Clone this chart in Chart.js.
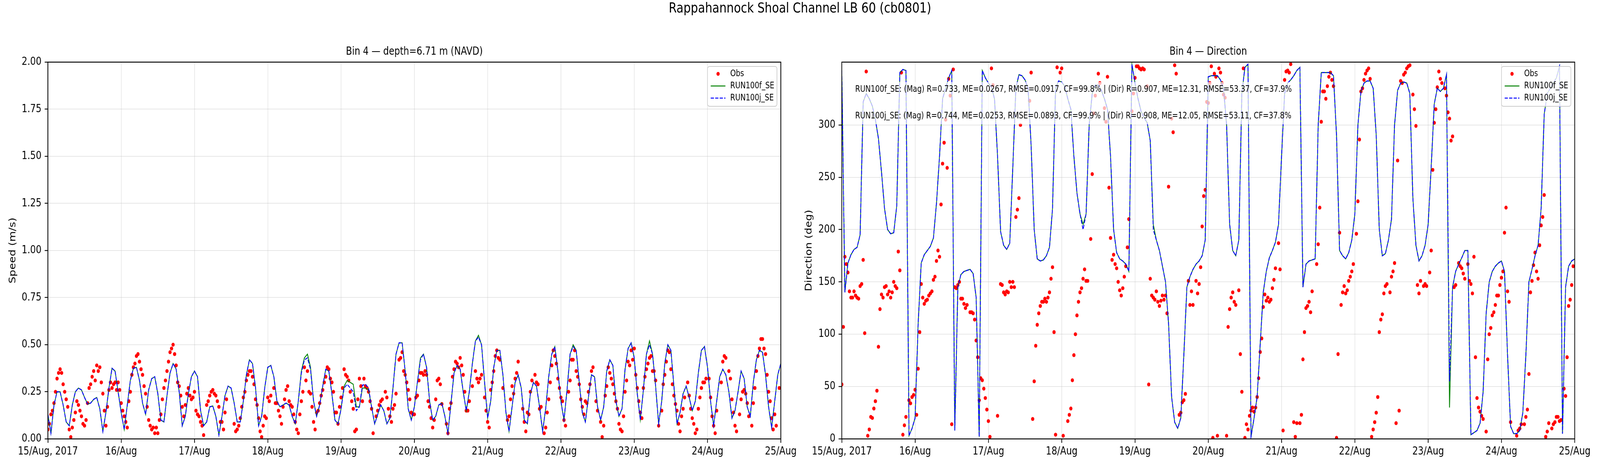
<!DOCTYPE html>
<html>
<head>
<meta charset="utf-8">
<script src="https://cdn.jsdelivr.net/npm/chart.js@4.4.1/dist/chart.umd.min.js"></script>
<style>
  html, body { margin: 0; padding: 0; background: #fff; overflow: hidden; }
  #page { position: absolute; left: 0; top: 0; width: 5000px; height: 1200px; transform-origin: 0 0; font-family: 'DejaVu Sans', sans-serif; }
  #suptitle { position: absolute; left: 0; top: 0; width: 5000px; text-align: center; font-size: 35.8px; line-height: 40px; color: #000; }
  .panel { position: absolute; top: 0; height: 1200px; }
</style>
</head>
<body>
<div id="page">
  <div id="suptitle">Rappahannock Shoal Channel LB 60 (cb0801)</div>
  <div class="panel" style="left:0;width:2540px"><canvas id="speed" width="2540" height="1200"></canvas></div>
  <div class="panel" style="left:2500px;width:2500px"><canvas id="direction" width="2500" height="1200"></canvas></div>
</div>
<script>
// the layout is drawn for 5000x1200 and fitted to whatever window we get
const page = document.getElementById('page');
page.style.transform = 'scale(' + (window.innerWidth / 5000) + ',' + (window.innerHeight / 1200) + ')';

// x values are hours since 15/Aug/2017 00:00, model output hourly, obs every 30 min
const xTickLabels = ['15/Aug, 2017', '16/Aug', '17/Aug', '18/Aug', '19/Aug', '20/Aug',
                     '21/Aug', '22/Aug', '23/Aug', '24/Aug', '25/Aug'];

const seriesNames = ['Obs', 'RUN100f_SE', 'RUN100j_SE'];

// speed (m/s), hourly
const speedF = [
  0.13,0.03,0.18,0.25,0.25,0.18,0.09,0.07,0.18,0.25,0.27,0.26,0.22,0.185,0.19,0.21,0.22,0.16,0.04,0.14,0.27,0.375,0.36,0.25,
  0.14,0.05,0.18,0.31,0.375,0.38,0.31,0.19,0.13,0.26,0.32,0.33,0.24,0.10,0.09,0.23,0.35,0.40,0.37,0.25,0.07,0.12,0.24,0.33,
  0.36,0.33,0.15,0.07,0.09,0.17,0.175,0.12,0.02,0.12,0.23,0.28,0.27,0.19,0.09,0.09,0.20,0.34,0.42,0.40,0.27,0.07,0.12,0.27,
  0.38,0.39,0.33,0.20,0.17,0.18,0.19,0.18,0.12,0.08,0.20,0.36,0.43,0.45,0.38,0.20,0.12,0.18,0.28,0.37,0.36,0.24,0.10,0.08,
  0.16,0.28,0.31,0.30,0.29,0.17,0.17,0.27,0.27,0.26,0.17,0.08,0.13,0.18,0.15,0.08,0.11,0.27,0.45,0.51,0.51,0.36,0.16,0.10,
  0.17,0.30,0.43,0.45,0.38,0.20,0.10,0.12,0.18,0.19,0.12,0.03,0.19,0.35,0.39,0.37,0.25,0.15,0.25,0.40,0.52,0.55,0.50,0.30,
  0.11,0.20,0.38,0.47,0.47,0.34,0.14,0.04,0.17,0.30,0.34,0.27,0.10,0.08,0.24,0.30,0.28,0.17,0.04,0.16,0.33,0.45,0.49,0.36,
  0.20,0.10,0.26,0.45,0.50,0.47,0.30,0.14,0.09,0.22,0.34,0.33,0.17,0.10,0.17,0.36,0.42,0.39,0.20,0.12,0.16,0.37,0.48,0.51,
  0.43,0.24,0.10,0.26,0.45,0.52,0.45,0.28,0.08,0.20,0.40,0.50,0.47,0.28,0.08,0.14,0.24,0.28,0.22,0.15,0.20,0.35,0.47,0.49,
  0.38,0.20,0.07,0.20,0.33,0.37,0.34,0.25,0.11,0.15,0.25,0.36,0.32,0.17,0.12,0.30,0.42,0.47,0.46,0.34,0.17,0.06,0.20,0.34,
  0.40
];
const speedJ = [
  0.13,0.03,0.18,0.25,0.25,0.18,0.09,0.07,0.18,0.25,0.27,0.26,0.22,0.185,0.19,0.21,0.22,0.16,0.04,0.14,0.27,0.375,0.36,0.25,
  0.14,0.05,0.18,0.31,0.375,0.38,0.31,0.19,0.13,0.26,0.32,0.33,0.24,0.10,0.09,0.23,0.35,0.40,0.37,0.25,0.07,0.12,0.24,0.33,
  0.36,0.33,0.15,0.07,0.09,0.17,0.175,0.12,0.02,0.12,0.23,0.28,0.27,0.19,0.09,0.09,0.20,0.34,0.42,0.40,0.27,0.07,0.12,0.27,
  0.38,0.39,0.33,0.20,0.17,0.18,0.19,0.18,0.12,0.08,0.20,0.35,0.42,0.43,0.37,0.20,0.12,0.18,0.28,0.37,0.36,0.24,0.10,0.08,
  0.16,0.27,0.29,0.27,0.25,0.15,0.17,0.285,0.29,0.27,0.17,0.08,0.13,0.18,0.15,0.08,0.11,0.27,0.45,0.51,0.51,0.36,0.16,0.10,
  0.17,0.30,0.42,0.45,0.38,0.20,0.10,0.12,0.18,0.19,0.12,0.03,0.19,0.35,0.39,0.37,0.25,0.15,0.25,0.40,0.52,0.54,0.50,0.30,
  0.11,0.20,0.38,0.47,0.47,0.34,0.14,0.04,0.17,0.30,0.34,0.27,0.10,0.08,0.24,0.30,0.28,0.17,0.04,0.16,0.33,0.45,0.49,0.36,
  0.20,0.10,0.26,0.45,0.49,0.47,0.30,0.14,0.09,0.22,0.34,0.33,0.17,0.10,0.17,0.36,0.42,0.39,0.20,0.12,0.16,0.37,0.48,0.51,
  0.43,0.24,0.10,0.26,0.45,0.50,0.45,0.28,0.08,0.20,0.40,0.50,0.47,0.28,0.08,0.14,0.24,0.28,0.22,0.15,0.20,0.35,0.47,0.49,
  0.38,0.20,0.07,0.20,0.33,0.37,0.34,0.25,0.11,0.15,0.25,0.36,0.32,0.17,0.12,0.30,0.42,0.47,0.46,0.34,0.17,0.06,0.20,0.34,
  0.40
];
// observed speed, every 30 min (null = no data)
const speedObs = [
  0.05,0.08,0.13,0.15,0.19,0.25,0.32,0.35,0.37,0.35,0.29,0.25,0.21,0.17,0.05,0.01,0.06,0.10,0.14,0.20,0.18,0.15,0.12,0.08,
  0.07,0.10,0.19,0.27,0.29,0.33,0.36,0.31,0.39,0.36,0.38,0.30,0.24,0.15,0.07,0.17,0.26,0.30,0.27,0.29,0.30,0.26,0.30,0.26,
  0.19,0.15,0.12,0.09,0.06,0.20,0.25,0.34,0.38,0.40,0.44,0.45,0.41,0.37,0.34,0.28,0.24,0.17,0.10,0.07,0.05,0.06,0.03,0.06,
  0.03,0.10,0.13,0.21,0.27,0.31,0.36,0.41,0.46,0.48,0.50,0.45,0.39,0.30,0.28,0.23,0.17,0.12,0.18,0.24,0.27,0.23,0.21,0.22,
  0.25,0.15,0.13,0.12,0.09,0.07,0.02,null,0.18,0.20,0.23,0.25,0.26,0.24,0.23,0.20,0.17,0.09,0.09,0.05,0.14,0.21,null,null,
  null,null,0.08,0.04,0.05,0.07,0.11,0.17,0.22,0.25,0.31,0.34,0.36,0.36,0.33,0.29,0.21,0.18,0.11,0.04,0.01,0.07,0.12,0.11,
  0.22,0.20,0.23,null,0.27,0.19,0.19,0.15,0.12,0.08,0.17,0.21,0.26,0.28,0.20,0.18,0.17,0.13,0.09,0.05,0.03,0.13,0.20,0.25,
  0.38,0.31,0.36,0.25,0.24,0.17,0.09,0.05,0.14,0.15,0.19,0.23,0.26,0.30,0.33,0.38,0.37,0.32,0.30,0.25,0.14,0.14,0.08,0.17,
  0.22,0.27,0.37,0.34,0.33,0.31,0.25,0.20,0.16,0.04,0.05,0.21,0.32,0.28,0.20,0.32,0.28,0.27,0.25,0.20,0.16,0.03,null,0.12,
  0.15,0.18,0.20,0.21,null,0.25,0.22,0.16,0.12,0.09,0.16,0.18,0.24,null,0.42,0.43,0.46,0.36,0.34,0.30,0.26,0.21,0.14,0.13,
  0.13,0.22,0.23,0.31,0.35,0.35,0.34,0.36,0.34,0.20,0.17,0.11,0.06,0.10,0.21,0.31,0.32,0.29,0.185,null,null,0.08,0.03,0.16,
  0.19,0.33,0.37,0.41,0.40,0.38,0.43,0.39,0.34,0.25,0.15,0.15,0.20,null,0.28,null,0.36,0.32,0.30,0.32,0.34,null,0.22,0.15,
  0.09,0.06,0.26,0.30,0.36,0.44,0.47,0.43,0.42,null,0.27,null,null,0.10,0.12,0.21,0.28,0.24,0.32,0.35,0.41,null,null,0.16,
  0.09,0.04,0.14,0.13,0.25,0.31,null,0.34,0.30,0.29,0.16,0.17,null,0.03,0.06,0.14,0.21,0.30,0.39,0.47,0.44,0.40,0.32,0.27,
  0.22,0.20,0.10,0.07,null,0.25,0.31,0.42,0.42,0.47,0.36,0.33,0.29,0.21,0.17,0.13,0.20,0.19,0.25,0.29,0.36,0.38,null,0.20,
  0.15,null,0.09,0.01,0.07,0.23,0.28,0.38,0.35,0.32,0.29,0.24,0.20,0.16,0.08,0.05,0.04,0.12,0.25,0.31,0.41,0.39,0.47,0.42,
  0.48,0.34,0.27,0.20,0.14,0.11,0.27,0.33,0.37,0.40,0.43,0.44,0.36,0.36,0.31,null,0.07,null,0.15,0.29,0.34,0.41,0.47,0.46,
  0.37,0.29,0.23,0.185,0.15,0.08,0.04,0.12,0.16,0.22,null,0.30,0.23,0.16,0.11,0.08,0.03,0.05,0.16,0.22,0.27,0.30,0.30,0.32,
  null,0.32,0.22,0.12,0.07,0.03,0.15,null,null,0.30,0.41,0.44,0.43,null,0.36,0.32,0.21,0.14,0.07,0.04,null,0.13,0.21,0.25,
  0.26,0.24,0.19,0.12,null,0.07,0.19,0.27,0.36,0.44,0.48,0.53,0.53,0.48,0.45,0.34,0.25,0.20,0.11,0.05,0.13,0.07,null,0.27
];

// direction (deg), hourly
const dirF = [
  352,140,168,176,181,183,195,322,330,325,318,305,287,255,220,200,196,197,223,350,353,352,3,10,
  20,110,168,176,180,184,192,225,270,325,335,345,352,8,145,157,160,161,162,158,135,2,352,345,
  340,336,325,270,198,185,181,187,260,335,348,347,343,335,280,200,172,170,171,175,183,220,335,342,
  341,337,325,315,270,235,215,205,215,300,330,338,338,333,325,315,270,200,178,172,170,167,160,358,
  340,325,313,307,302,285,205,190,180,165,150,110,40,16,10,20,80,145,155,162,167,170,175,190,
  346,347,347,347,343,335,300,205,180,175,190,330,355,358,2,20,40,90,140,160,173,180,188,205,
  270,330,340,343,347,352,355,145,167,170,171,172,300,350,350,350,350,347,290,180,175,172,178,190,
  215,300,332,340,342,342,335,290,200,175,177,190,210,300,333,340,341,340,330,230,185,170,175,185,
  205,260,320,335,332,335,348,30,145,160,167,173,180,180,4,6,8,15,45,120,150,160,165,168,
  170,160,80,12,5,5,8,25,80,150,162,175,185,220,310,330,335,340,345,356,5,145,165,170,
  172
];
const dirJ = [
  352,140,168,176,181,183,195,322,330,325,318,305,287,255,220,200,196,197,223,350,353,352,3,10,
  20,110,168,176,180,184,192,225,270,325,335,345,352,8,145,157,160,161,162,158,135,2,352,345,
  340,336,325,270,198,185,181,187,260,335,348,347,343,335,280,200,172,170,171,175,183,220,335,342,
  341,337,325,315,270,235,215,200,215,300,330,338,338,333,325,315,270,200,178,172,170,167,160,358,
  340,325,313,307,302,285,200,190,180,165,150,110,40,16,10,20,80,145,155,162,167,170,175,190,
  346,347,347,347,343,335,300,205,180,175,190,330,355,358,2,20,40,90,140,160,173,180,188,205,
  270,330,340,343,347,352,355,145,167,170,171,172,300,350,350,350,350,347,290,180,175,172,178,190,
  215,300,332,340,342,342,335,290,200,175,177,190,210,300,333,340,341,340,330,230,185,170,175,185,
  205,260,320,335,332,335,348,55,145,160,167,173,180,180,4,6,8,15,45,120,150,160,165,168,
  170,160,80,12,5,5,8,25,80,150,162,175,185,220,310,330,335,340,345,356,5,145,165,170,
  172
];
// observed direction, every 30 min (null = no data)
const dirObs = [
  52,107,174,167,159,141,135,135,141,137,135,134,146,148,171,101,351,3,9,21,20,29,36,46,
  88,124,138,135,145,146,138,141,135,140,150,146,144,179,161,350,4,13,21,null,37,34,40,42,
  47,23,67,102,148,135,129,132,133,137,139,141,152,155,170,180,174,224,263,283,305,259,344,328,
  14,353,145,144,147,150,134,134,129,125,128,null,121,121,120,114,94,78,37,58,56,48,39,28,
  17,2,354,338,null,null,22,null,148,147,140,138,141,140,150,145,150,145,212,219,230,300,null,null,
  null,null,null,323,350,19,55,89,109,120,127,131,131,134,131,135,140,153,164,102,4,355,null,350,
  354,3,null,null,17,23,29,56,80,100,118,131,140,144,153,162,151,151,null,191,253,311,328,null,
  349,340,null,null,316,303,346,240,192,171,176,167,163,150,142,137,144,155,165,183,210,null,313,330,
  345,356,356,354,353,354,353,null,337,52,153,137,135,133,141,131,127,132,137,133,137,120,241,null,
  306,293,357,349,null,23,25,35,37,43,null,151,128,141,128,null,151,139,148,164,203,232,238,322,
  321,340,356,1,349,346,3,354,350,340,329,326,3,107,124,135,140,131,128,null,142,81,45,354,
  1,14,9,22,27,30,26,30,40,58,83,96,126,138,132,135,131,133,144,152,163,null,187,162,
  null,8,343,351,352,350,358,null,16,2,15,null,15,23,76,102,125,127,131,121,141,null,null,167,
  186,221,303,332,332,325,337,346,350,343,337,null,1,81,197,128,140,146,139,142,151,155,160,167,
  null,196,227,286,332,335,343,349,352,354,344,2,9,16,25,40,102,114,119,139,146,148,null,140,
  155,160,168,15,266,27,342,340,348,350,354,356,357,null,329,315,299,147,139,151,null,146,148,146,
  null,159,180,257,302,315,336,351,344,340,null,335,328,312,306,285,289,145,147,null,168,165,163,158,
  153,null,167,151,148,139,174,78,39,30,26,22,19,null,7,76,100,106,118,121,128,137,137,147,
  154,160,197,221,141,131,16,null,null,null,3,8,10,14,null,14,21,28,62,140,151,166,178,160,
  153,185,204,212,233,2,7,15,null,10,14,16,21,21,17,18,null,48,41,78,127,133,147,165
];

const statsLines = [
  'RUN100f_SE: (Mag) R=0.733, ME=0.0267, RMSE=0.0917, CF=99.8% | (Dir) R=0.907, ME=12.31, RMSE=53.37, CF=37.9%',
  'RUN100j_SE: (Mag) R=0.744, ME=0.0253, RMSE=0.0893, CF=99.9% | (Dir) R=0.908, ME=12.05, RMSE=53.11, CF=37.8%'
];

const FONT = 'DejaVu Sans';
Chart.defaults.font.family = FONT;
Chart.defaults.color = '#000';

function toPoints(values, step) {
  return values.map((v, i) => ({ x: i * step, y: v }));
}

// all four spines, over the data like matplotlib
const frame = {
  id: 'frame',
  afterDatasetsDraw(chart) {
    const { ctx, chartArea: a } = chart;
    ctx.save();
    ctx.strokeStyle = '#000';
    ctx.lineWidth = 2.4;
    ctx.strokeRect(a.left, a.top, a.right - a.left, a.bottom - a.top);
    ctx.restore();
  }
};

// legend box in the upper right corner of the axes
const boxLegend = {
  id: 'boxLegend',
  afterDraw(chart) {
    const { ctx, chartArea: a } = chart;
    const w = 217, h = 102;
    const x = a.right - 12 - w, y = a.top + 11;
    ctx.save();
    ctx.fillStyle = 'rgba(255,255,255,0.8)';
    ctx.strokeStyle = '#cccccc';
    ctx.lineWidth = 2;
    ctx.beginPath();
    ctx.roundRect(x, y, w, h, 6);
    ctx.fill();
    ctx.stroke();
    ctx.font = '22.2px "' + FONT + '"';
    ctx.textBaseline = 'middle';
    chart.data.datasets.forEach((ds, i) => {
      const cy = y + 19 + i * 31;
      if (ds.showLine) {
        ctx.strokeStyle = ds.borderColor;
        ctx.lineWidth = ds.borderWidth;
        ctx.setLineDash(ds.borderDash || []);
        ctx.beginPath();
        ctx.moveTo(x + 10, cy);
        ctx.lineTo(x + 56, cy);
        ctx.stroke();
        ctx.setLineDash([]);
      } else {
        ctx.fillStyle = ds.backgroundColor;
        ctx.beginPath();
        ctx.arc(x + 33, cy, ds.pointRadius, 0, Math.PI * 2);
        ctx.fill();
      }
      ctx.fillStyle = '#000';
      ctx.fillText(ds.label, x + 71, cy);
    });
    ctx.restore();
  }
};

// skill scores in a half transparent box, direction panel only
const statsBox = {
  id: 'statsBox',
  afterDatasetsDraw(chart) {
    const { ctx, chartArea: a } = chart;
    ctx.save();
    ctx.fillStyle = 'rgba(255,255,255,0.7)';
    ctx.fillRect(a.left + 33, a.top + 51, 1392, 108);
    ctx.fillStyle = '#000';
    ctx.font = '22.2px "' + FONT + '"';
    ctx.textBaseline = 'middle';
    statsLines.forEach((t, i) => ctx.fillText(t, a.left + 42, a.top + 70 + i * 68));
    ctx.restore();
  }
};

const gridStyle = {
  color: 'rgba(176,176,176,0.3)',
  lineWidth: 2,
  tickColor: '#000',
  tickWidth: 2.2,
  tickLength: 10
};

function makeDatasets(obs, f, j) {
  return [
    { label: seriesNames[0], data: toPoints(obs, 0.5), showLine: false,
      backgroundColor: '#ff0000', borderColor: '#ff0000', pointRadius: 5, pointBorderWidth: 0, order: 3 },
    { label: seriesNames[1], data: toPoints(f, 1), showLine: true,
      borderColor: '#008000', backgroundColor: '#008000', borderWidth: 2.4, pointRadius: 0, order: 2 },
    { label: seriesNames[2], data: toPoints(j, 1), showLine: true,
      borderColor: '#0000ff', backgroundColor: '#0000ff', borderWidth: 2.6, borderDash: [10, 4], pointRadius: 0, order: 1 }
  ];
}

function makeConfig(opts) {
  return {
    type: 'scatter',
    data: { datasets: opts.datasets },
    plugins: opts.plugins,
    options: {
      responsive: false,
      animation: false,
      devicePixelRatio: 1,
      layout: { padding: { top: 115.6, left: 0, right: opts.padRight, bottom: 0 } },
      plugins: {
        legend: { display: false },
        tooltip: { enabled: false },
        title: {
          display: true, text: opts.title, fullSize: false, color: '#000',
          font: { size: 27.8, weight: 'normal' }, padding: { top: 0, bottom: 10 }
        }
      },
      scales: {
        x: {
          type: 'linear', min: 0, max: 240,
          ticks: {
            stepSize: 24, padding: 6, maxRotation: 0, autoSkip: false,
            font: { size: 27.8 }, color: '#000',
            callback: v => xTickLabels[Math.round(v / 24)]
          },
          grid: gridStyle,
          border: { display: false },
          afterFit: s => { s.height = 77; }
        },
        y: {
          type: 'linear', min: opts.yMin, max: opts.yMax,
          ticks: {
            stepSize: opts.yStep, padding: 10, font: { size: 27.8 }, color: '#000',
            callback: opts.yFormat
          },
          afterBuildTicks: s => { s.ticks = s.ticks.filter(t => Math.abs(t.value / opts.yStep - Math.round(t.value / opts.yStep)) < 1e-6); },
          grid: gridStyle,
          border: { display: false },
          title: {
            display: true, text: opts.yTitle, color: '#000',
            font: { size: 27.8 }, padding: { top: opts.yTitlePad, bottom: 0 }
          },
          afterFit: s => { s.width = opts.yWidth; }
        }
      }
    }
  };
}

new Chart(document.getElementById('speed'), makeConfig({
  title: 'Bin 4 \u2014 depth=6.71 m (NAVD)',
  datasets: makeDatasets(speedObs, speedF, speedJ),
  plugins: [frame, boxLegend],
  padRight: 100,
  yMin: 0, yMax: 2, yStep: 0.25,
  yFormat: v => v.toFixed(2),
  yTitle: 'Speed (m/s)', yTitlePad: 24, yWidth: 149.6
}));

new Chart(document.getElementById('direction'), makeConfig({
  title: 'Bin 4 \u2014 Direction',
  datasets: makeDatasets(dirObs, dirF, dirJ),
  plugins: [statsBox, frame, boxLegend],
  padRight: 79,
  yMin: 0, yMax: 360, yStep: 50,
  yFormat: v => String(v),
  yTitle: 'Direction (deg)', yTitlePad: 12, yWidth: 130.6
}));
</script>
</body>
</html>
